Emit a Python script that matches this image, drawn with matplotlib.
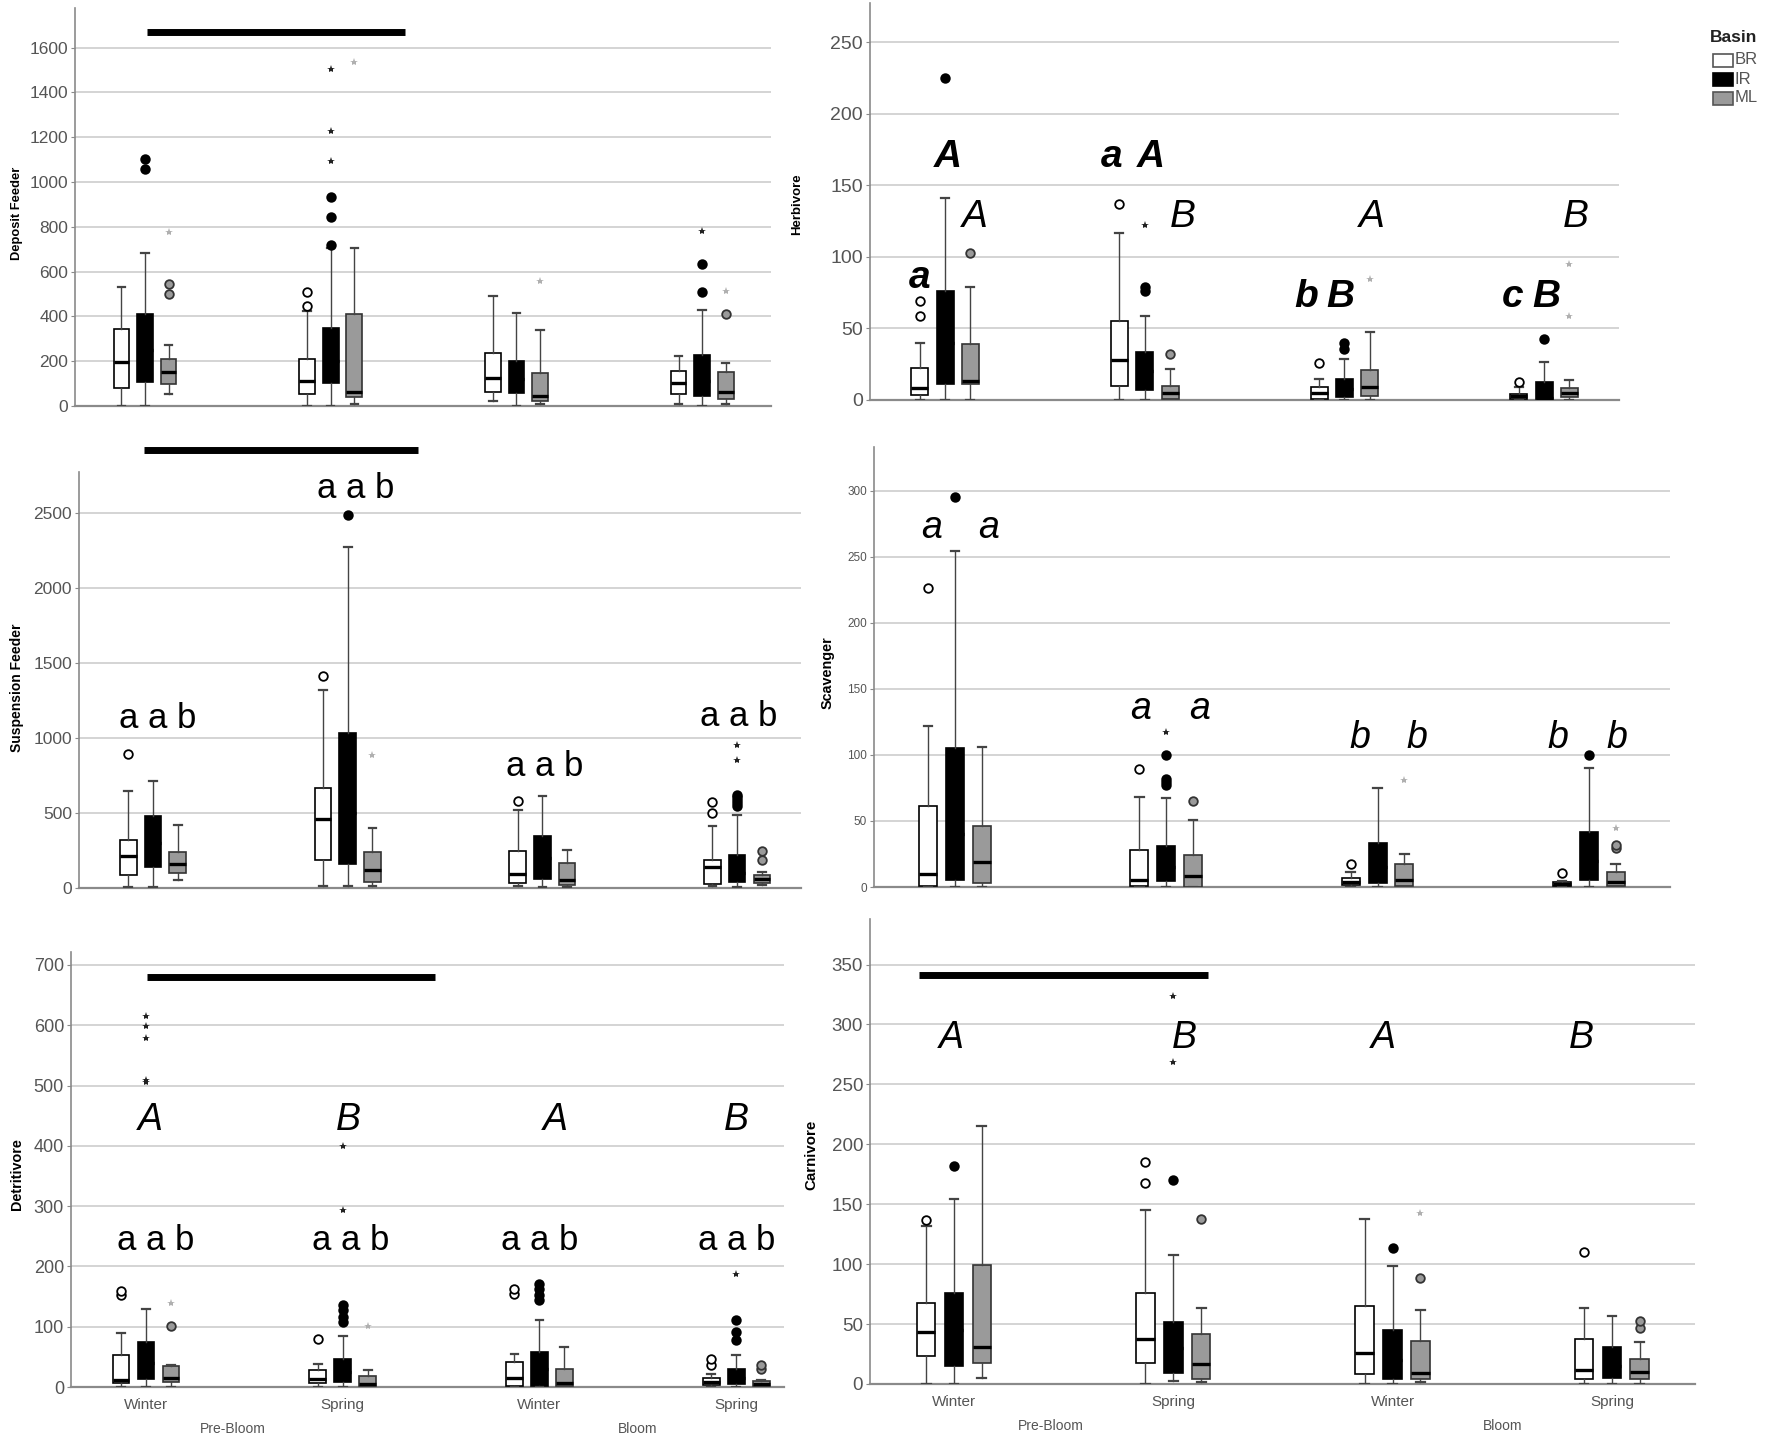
import matplotlib
matplotlib.use("Agg")
import matplotlib.pyplot as plt
from matplotlib.patches import Rectangle
from matplotlib import font_manager

# ---------------- data ----------------
seasons = ["Winter", "Spring", "Winter", "Spring"]
phases = ["Pre-Bloom", "Bloom"]
basins = ["BR", "IR", "ML"]

# stats per group (4 season groups) x basin (BR, IR, ML): (whislo, q1, med, q3, whishi)
deposit_stats = [
    [(0, 79, 195, 344, 530), (0, 107, 250, 412, 685), (52, 98, 153, 210, 272)],
    [(0, 55, 113, 210, 424), (0, 103, 200, 350, 704), (7, 39, 64, 409, 704)],
    [(22, 64, 126, 238, 491), (0, 58, 120, 202, 417), (7, 22, 46, 149, 339)],
    [(9, 55, 101, 158, 223), (0, 45, 110, 226, 429), (7, 31, 64, 150, 190)],
]
deposit_circles = [[[], [1057, 1103], [500, 543]], [[446, 508], [719, 842, 935], []],
                   [[], [], []], [[], [508, 634], [409]]]
deposit_stars = [[[], [], [778]], [[], [1095, 1229, 1505], [1537]],
                 [[], [], [558]], [[], [783], [515]]]

herbivore_stats = [
    [(0, 3.7, 8.2, 22.6, 40), (0, 11, 40, 76.4, 141), (0, 11, 13.3, 39, 79)],
    [(0, 9.6, 28, 55, 117), (0, 7, 20, 33.8, 59), (0, 0.7, 4.7, 9.6, 22)],
    [(0, 0.9, 4.7, 8.9, 14.7), (0, 1.9, 8, 14.7, 28.9), (0, 2.8, 8.9, 20.7, 47.8)],
    [(0, 0.7, 3, 4, 9), (0, 0.7, 1.2, 12.8, 26.8), (0, 1.9, 4.7, 8.6, 14.2)],
]
herbivore_circles = [[[59, 69], [225], [103]], [[137], [76, 78.7], [32]],
                     [[25.9], [35.4, 39.6], []], [[12.8], [42.9], []]]
herbivore_stars = [[[], [], []], [[], [122], []], [[], [], [84.3]], [[], [], [58.9, 94.8]]]

suspension_stats = [
    [(4, 84, 216, 318, 649), (4, 138, 300, 478, 716), (51, 100, 160, 238, 418)],
    [(16, 184, 460, 667, 1322), (16, 162, 500, 1033, 2278), (16, 40, 122, 238, 400)],
    [(16, 33, 93, 244, 522), (4, 60, 200, 344, 616), (7, 22, 56, 167, 256)],
    [(11, 29, 138, 184, 411), (7, 40, 100, 222, 484), (22, 33, 62, 89, 110)],
]
suspension_circles = [[[895], [], []], [[1411], [2487], []], [[582], [], []],
                      [[500, 571], [549, 567, 589, 607, 622], [184, 244]]]
suspension_stars = [[[], [], []], [[], [], [889]], [[], [], []], [[], [855, 956], []]]

scavenger_stats = [
    [(0, 0.5, 10, 61, 122), (0, 5, 40, 105, 254), (0, 3, 18.8, 46.4, 106)],
    [(0, 1, 5.5, 28, 67.8), (0, 4.3, 15, 31, 67), (0, 0, 8, 24.4, 50.7)],
    [(0, 1.3, 3.8, 6.8, 11), (0, 3, 15, 33, 75), (0, 1, 5.5, 17.3, 24.9)],
    [(0, 1, 2.3, 3.5, 4.8), (0, 5, 20, 42, 90), (0, 1, 3.8, 11, 17.3)],
]
scavenger_circles = [[[226], [295], []], [[89], [77, 79.6, 82, 100], [65]],
                     [[17.3], [], []], [[10.5], [100], [29.4, 31.9]]]
scavenger_stars = [[[], [], []], [[], [117], []], [[], [], [80.8]], [[], [], [44.4]]]

detritivore_stats = [
    [(0, 6.6, 11, 52.6, 90), (0, 13.8, 40, 74.7, 130), (0, 8.3, 15.5, 35, 37)],
    [(0, 7, 12.7, 29, 38.7), (0, 8.3, 25, 47, 84.7), (0, 1.7, 5.5, 18.3, 27.7)],
    [(0, 1.7, 15, 41.5, 55), (0, 1.7, 30, 58, 110.7), (0, 1.7, 7.2, 30.4, 66.4)],
    [(0, 2.8, 8.3, 15.5, 22), (0, 5.5, 15, 29.3, 52.6), (0, 1.7, 5.5, 10, 12)],
]
detritivore_circles = [[[152, 160], [], [101]], [[79], [108, 116, 127, 135.6], []],
                       [[154, 163], [145, 152, 163, 171.6], []],
                       [[36, 47], [77.5, 91.3, 110.7], [30, 36]]]
detritivore_stars = [[[], [506, 510, 579, 599, 615], [140]], [[], [294, 400], [100.7]],
                     [[], [], []], [[], [188], []]]

carnivore_stats = [
    [(0, 23.7, 43.7, 67.4, 132), (0, 15, 45, 75.7, 154), (4.7, 17.3, 30.6, 99.7, 215)],
    [(0, 17.8, 37.9, 75.7, 144.8), (2.8, 9.5, 30, 51.5, 108), (1.9, 3.9, 16.7, 41.5, 63.8)],
    [(0, 8.1, 25.6, 65.4, 137.8), (0, 3.9, 20, 45, 98.6), (1.4, 4.5, 9.5, 35.9, 61.8)],
    [(0, 4.5, 11.7, 37.3, 63.8), (0, 5.3, 15, 31.2, 57), (0, 3.9, 10, 20.6, 34.8)],
]
carnivore_circles = [[[137], [181.5], []], [[167.6, 184.9], [170.4], [137.5]],
                     [[], [113.3], [88.8]], [[110.5], [], [47, 52.6]]]
carnivore_stars = [[[], [], []], [[], [268.7, 324], []], [[], [], [142.5]], [[], [], []]]

# significance letters: (x, y, text, bold)
herbivore_letters = [(-0.127, 85, "a", True), (0.014, 170, "A", True), (0.15, 128, "A", False),
                     (0.835, 170, "a", True), (1.033, 170, "A", True), (1.19, 128, "B", False),
                     (1.81, 72, "b", True), (1.98, 72, "B", True), (2.137, 128, "A", False),
                     (2.84, 72, "c", True), (3.01, 72, "B", True), (3.16, 128, "B", False)]
scavenger_letters = [(-0.112, 272, "a"), (0.16, 272, "a"), (0.88, 135, "a"), (1.16, 135, "a"),
                     (1.915, 113, "b"), (2.187, 113, "b"), (2.853, 113, "b"), (3.133, 113, "b")]
suspension_letters = [(0.026, 1133, "a a b"), (1.04, 2667, "a a b"),
                      (2.01, 811, "a a b"), (3.01, 1144, "a a b")]
detritivore_caps = [(0.02, 443, "A"), (1.03, 443, "B"), (2.08, 443, "A"), (3.0, 443, "B")]
detritivore_letters = [(0.05, 243, "a a b"), (1.04, 243, "a a b"),
                       (2.0, 243, "a a b"), (3.0, 243, "a a b")]
carnivore_caps = [(-0.01, 289, "A"), (1.05, 289, "B"), (1.96, 289, "A"), (2.86, 289, "B")]

# season-effect bars: (x0, x1, y)
deposit_bar = (0.01, 1.40, 1670)
suspension_bar = (-0.046, 1.36, 2922)
detritivore_bar = (0.005, 1.47, 680)
carnivore_bar = (-0.16, 1.16, 341)

# ---------------- style ----------------
avail = {f.name for f in font_manager.fontManager.ttflist}
SANS = "Liberation Sans" if "Liberation Sans" in avail else "DejaVu Sans"
NARROW = "Liberation Sans Narrow" if "Liberation Sans Narrow" in avail else SANS
plt.rcParams["font.family"] = [SANS, "DejaVu Sans"]

W, H = 1772, 1440
fig = plt.figure(figsize=(W / 100, H / 100), dpi=100)

fills = ["white", "black", "#9a9a9a"]
edges = ["black", "black", "#333333"]
circle_face = ["white", "black", "#9a9a9a"]
circle_edge = ["black", "black", "#333333"]
star_color = ["#222222", "#222222", "#b0b0b0"]
offsets = [-0.127, 0.0, 0.127]
TICKC = "#555555"
GRIDC = "#d4d4d4"
AXC = "#8a8a8a"


def make_axes(L, R, top, y0, xlim, ymax, yticks, label, label_xy, label_size,
              tick_font, tick_size):
    ax = fig.add_axes([L / W, 1 - y0 / H, (R - L) / W, (y0 - top) / H])
    ax.set_xlim(*xlim)
    ax.set_ylim(0, ymax)
    ax.set_yticks(yticks)
    ax.yaxis.grid(True, color=GRIDC, lw=1.4, zorder=0)
    ax.set_axisbelow(True)
    for s in ["top", "right"]:
        ax.spines[s].set_visible(False)
    ax.spines["left"].set_color(AXC)
    ax.spines["bottom"].set_color(AXC)
    ax.spines["left"].set_linewidth(1.2)
    ax.spines["bottom"].set_linewidth(1.6)
    ax.tick_params(axis="y", length=3, color=AXC, pad=2, labelcolor=TICKC)
    for t in ax.get_yticklabels():
        t.set_fontfamily(NARROW if tick_font == "narrow" else SANS)
        t.set_fontsize(tick_size)
    ax.set_xticks([])
    fig.text(label_xy[0] / W, 1 - label_xy[1] / H, label, rotation=90, ha="center",
             va="center", fontsize=label_size, fontweight="bold", color="black")
    return ax


def draw_boxes(ax, stats, circles, stars):
    for b in range(3):
        bstats = []
        pos = []
        for g in range(4):
            lo, q1, med, q3, hi = stats[g][b]
            bstats.append(dict(whislo=lo, q1=q1, med=med, q3=q3, whishi=hi, fliers=[]))
            pos.append(g + offsets[b])
        ax.bxp(bstats, positions=pos, widths=0.085, capwidths=0.04, patch_artist=True,
               showfliers=False, manage_ticks=False,
               boxprops=dict(facecolor=fills[b], edgecolor=edges[b], linewidth=1.2),
               medianprops=dict(color="black", linewidth=2.4),
               whiskerprops=dict(color="#444444", linewidth=1.0),
               capprops=dict(color="#444444", linewidth=1.6), zorder=3)
        for g in range(4):
            x = g + offsets[b]
            if circles[g][b]:
                ax.plot([x] * len(circles[g][b]), circles[g][b], "o", ms=6.2,
                        mfc=circle_face[b], mec=circle_edge[b], mew=1.3, zorder=4,
                        clip_on=False)
            if stars[g][b]:
                ax.plot([x] * len(stars[g][b]), stars[g][b], "*", ms=6,
                        color=star_color[b], mew=0, zorder=4, clip_on=False)


def bar(ax, spec):
    x0, x1, y = spec
    ax.plot([x0, x1], [y, y], color="black", lw=5, solid_capstyle="butt", clip_on=False,
            zorder=5)


def season_labels(ax, size):
    ax.set_xticks(range(4))
    ax.set_xticklabels(seasons, fontsize=size, color=TICKC)
    ax.tick_params(axis="x", length=0, pad=8)
    for x, name in zip([0.44, 2.5], phases):
        ax.annotate(name, xy=(x, 0), xycoords=("data", "axes fraction"),
                    xytext=(0, -42), textcoords="offset pixels", ha="center", va="center",
                    fontsize=size - 1, color=TICKC)


# ---- panel 1: Deposit Feeder ----
ax1 = make_axes(75, 771, 8, 406, (-0.377, 3.371), 1777, range(0, 1601, 200),
                "Deposit Feeder", (17, 213), 9.3, "narrow", 12.5)
draw_boxes(ax1, deposit_stats, deposit_circles, deposit_stars)
bar(ax1, deposit_bar)

# ---- panel 2: Herbivore ----
ax2 = make_axes(870, 1619, 3, 400, (-0.376, 3.375), 277.5, range(0, 251, 50),
                "Herbivore", (797, 204), 9.5, "sans", 14)
draw_boxes(ax2, herbivore_stats, herbivore_circles, herbivore_stars)
for x, y, t, bold in herbivore_letters:
    ax2.text(x, y, t, ha="center", va="center", fontsize=28, style="italic",
             fontweight="bold" if bold else "normal", zorder=6)

# ---- panel 3: Suspension Feeder ----
ax3 = make_axes(79, 801, 472, 888, (-0.380, 3.328), 2775, range(0, 2501, 500),
                "Suspension Feeder", (17, 688), 10, "narrow", 12.5)
draw_boxes(ax3, suspension_stats, suspension_circles, suspension_stars)
bar(ax3, suspension_bar)
for x, y, t in suspension_letters:
    ax3.text(x, y, t, ha="center", va="center", fontsize=25, zorder=6)

# ---- panel 4: Scavenger ----
ax4 = make_axes(874, 1670, 447, 887, (-0.383, 3.384), 333, range(0, 301, 50),
                "Scavenger", (828, 673), 10.4, "sans", 8.5)
draw_boxes(ax4, scavenger_stats, scavenger_circles, scavenger_stars)
for x, y, t in scavenger_letters:
    ax4.text(x, y, t, ha="center", va="center", fontsize=27, style="italic", zorder=6)

# ---- panel 5: Detritivore ----
ax5 = make_axes(71, 784, 952, 1387, (-0.381, 3.243), 721.5, range(0, 701, 100),
                "Detritivore", (17, 1174), 10.4, "narrow", 13)
draw_boxes(ax5, detritivore_stats, detritivore_circles, detritivore_stars)
bar(ax5, detritivore_bar)
for x, y, t in detritivore_caps:
    ax5.text(x, y, t, ha="center", va="center", fontsize=27, style="italic", zorder=6)
for x, y, t in detritivore_letters:
    ax5.text(x, y, t, ha="center", va="center", fontsize=25, zorder=6)
season_labels(ax5, 11)

# ---- panel 6: Carnivore ----
ax6 = make_axes(870, 1695, 919, 1384, (-0.383, 3.379), 388, range(0, 351, 50),
                "Carnivore", (811, 1155), 10.8, "narrow", 13.5)
draw_boxes(ax6, carnivore_stats, carnivore_circles, carnivore_stars)
bar(ax6, carnivore_bar)
for x, y, t in carnivore_caps:
    ax6.text(x, y, t, ha="center", va="center", fontsize=27, style="italic", zorder=6)
season_labels(ax6, 11)

# ---- legend ----
fig.text(1710 / W, 1 - 37 / H, "Basin", fontsize=12.5, fontweight="bold", color="#222222",
         ha="left", va="center")
leg_y = [60, 79, 98]
for name, fc, ec, yc in zip(basins, fills, ["#555555", "black", "#555555"], leg_y):
    fig.add_artist(Rectangle((1713 / W, 1 - (yc + 7) / H), 20 / W, 13 / H,
                             transform=fig.transFigure, facecolor=fc, edgecolor=ec, lw=1.2))
    fig.text(1735 / W, 1 - yc / H, name, fontsize=12, color="#555555", ha="left", va="center")

fig.savefig("out.png", dpi=100)
